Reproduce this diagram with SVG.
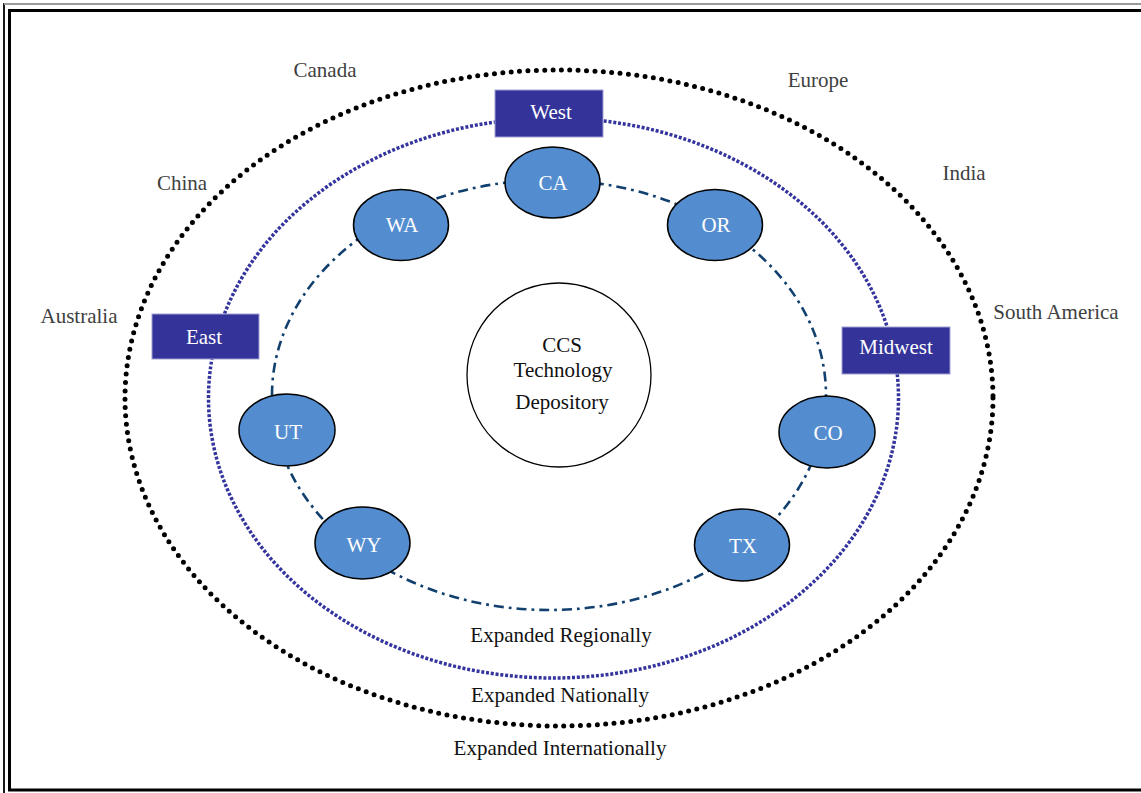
<svg xmlns="http://www.w3.org/2000/svg" width="1141" height="793" viewBox="0 0 1141 793">
  <style>
    .lbl { font-family: "Liberation Serif", "Times New Roman", serif; font-size: 21px; fill: #404040; text-anchor: middle; }
    .cap { font-family: "Liberation Serif", "Times New Roman", serif; font-size: 21px; fill: #111111; text-anchor: middle; }
    .ntx { font-family: "Liberation Serif", "Times New Roman", serif; font-size: 21px; fill: #ffffff; text-anchor: middle; }
    .state { fill: #538dd0; stroke: #000000; stroke-width: 1.5; }
    .region { fill: #333399; stroke: #a0a0d0; stroke-width: 1; }
    .intl { fill: none; stroke: #000000; stroke-width: 5; stroke-dasharray: 0 8.4; stroke-linecap: round; }
    .natl { fill: none; stroke: #34349e; stroke-width: 3.5; stroke-dasharray: 3 1.8; }
    .regl { fill: none; stroke: #12406e; stroke-width: 2.6; stroke-dasharray: 10 5 2.8 5; }
  </style>
  <rect x="0" y="0" width="1141" height="793" fill="#ffffff"/>
  <g id="frame">
    <rect x="4" y="4" width="1150" height="800" fill="none" stroke="#000000" stroke-width="1.8"/>
    <line x1="4" y1="4" x2="1141" y2="4" stroke="#9a9a9a" stroke-width="2"/>
    <rect x="9.5" y="10.5" width="1150" height="779.5" fill="none" stroke="#000000" stroke-width="3"/>
  </g>
  <g id="connectors">
    <ellipse class="intl" cx="559" cy="398" rx="434" ry="328"/>
    <ellipse class="natl" cx="553.5" cy="398" rx="345" ry="280"/>
    <ellipse class="regl" cx="549" cy="395" rx="277" ry="215"/>
  </g>
  <g id="labels">
    <text class="lbl" x="325" y="77">Canada</text>
    <text class="lbl" x="818" y="87">Europe</text>
    <text class="lbl" x="182" y="190">China</text>
    <text class="lbl" x="964" y="180">India</text>
    <text class="lbl" x="79" y="323">Australia</text>
    <text class="lbl" x="1056" y="319">South America</text>
    <text class="cap" x="561" y="642">Expanded Regionally</text>
    <text class="cap" x="560" y="702">Expanded Nationally</text>
    <text class="cap" x="560" y="755">Expanded Internationally</text>
  </g>
  <g id="center">
    <ellipse cx="559" cy="375" rx="92" ry="92" fill="#ffffff" stroke="#000000" stroke-width="1.3"/>
    <text class="cap" x="562" y="352">CCS</text>
    <text class="cap" x="563" y="377">Technology</text>
    <text class="cap" x="562" y="409">Depository</text>
  </g>
  <g id="west">
    <rect class="region" x="495" y="90" width="108" height="47"/>
    <text class="ntx" x="551" y="119">West</text>
  </g>
  <g id="east">
    <rect class="region" x="152" y="314" width="107" height="45"/>
    <text class="ntx" x="204" y="344">East</text>
  </g>
  <g id="midwest">
    <rect class="region" x="842" y="327" width="108" height="47"/>
    <text class="ntx" x="896" y="354">Midwest</text>
  </g>
  <g id="ca">
    <ellipse class="state" cx="552.5" cy="182.5" rx="47.5" ry="35.5"/>
    <text class="ntx" x="553" y="190">CA</text>
  </g>
  <g id="wa">
    <ellipse class="state" cx="401" cy="225" rx="47.5" ry="35.5"/>
    <text class="ntx" x="402" y="232">WA</text>
  </g>
  <g id="or">
    <ellipse class="state" cx="715" cy="225" rx="47.5" ry="35.5"/>
    <text class="ntx" x="716" y="232">OR</text>
  </g>
  <g id="ut">
    <ellipse class="state" cx="287" cy="430" rx="48" ry="36"/>
    <text class="ntx" x="288" y="439">UT</text>
  </g>
  <g id="co">
    <ellipse class="state" cx="827" cy="432" rx="48" ry="36"/>
    <text class="ntx" x="828" y="440">CO</text>
  </g>
  <g id="wy">
    <ellipse class="state" cx="362.5" cy="543" rx="47.5" ry="36"/>
    <text class="ntx" x="364" y="552">WY</text>
  </g>
  <g id="tx">
    <ellipse class="state" cx="742" cy="545" rx="47.5" ry="36"/>
    <text class="ntx" x="743" y="553">TX</text>
  </g>
</svg>
